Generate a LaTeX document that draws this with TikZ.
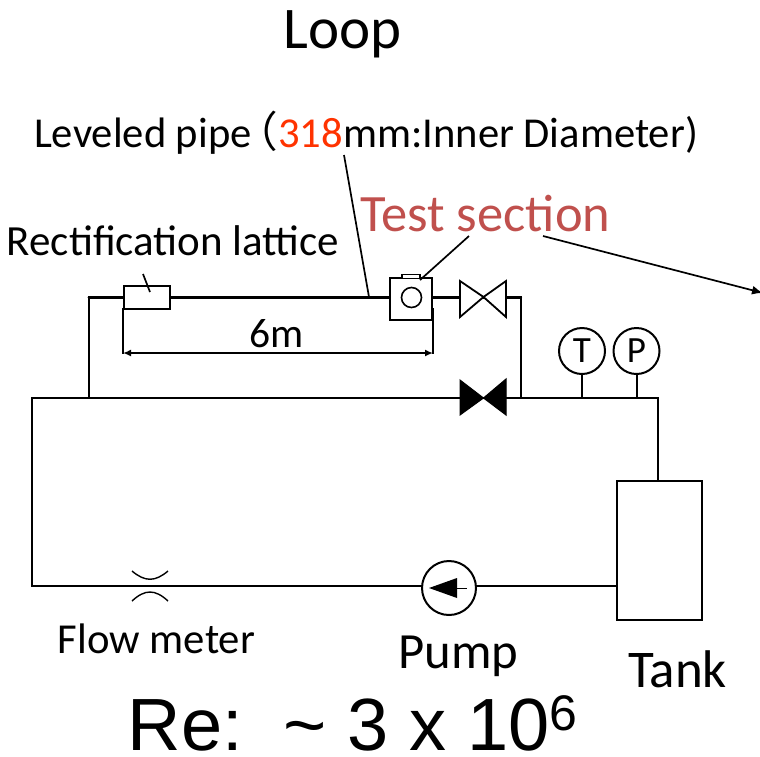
\documentclass[tikz,border=0pt]{standalone}
\usepackage{fontspec}
\setmainfont{Carlito}
\newfontfamily\arialf{Liberation Sans}
\newfontfamily\cjkf{Noto Sans CJK JP}
\usetikzlibrary{arrows.meta,calc}
\definecolor{redlab}{HTML}{FF3300}
\definecolor{testlab}{HTML}{C0504D}
\tikzset{
  x=1pt,y=-1pt,
  pipe/.style={draw=black,line width=2pt},
  toppipe/.style={draw=black,line width=3pt},
  leader/.style={draw=black,line width=1.7pt},
  boxnode/.style={draw=black,line width=2pt,fill=white,inner sep=0pt,outer sep=0pt},
  gauge/.style={draw=black,line width=2pt,fill=white,circle,inner sep=0pt,outer sep=0pt,minimum size=46pt,font=\fontsize{37}{37}\selectfont},
  lab/.style={inner sep=0pt,outer sep=0pt,anchor=base,text=black},
  valveopen/.style={draw=black,line width=1.8pt,fill=white,line join=miter},
  valveshut/.style={draw=black,line width=1pt,fill=black,line join=miter},
  dimtip/.style={-{Latex[length=11pt,width=9pt]}},
}
\begin{document}
\begin{tikzpicture}
\useasboundingbox[fill=white] (0,0) rectangle (760,756);
% texts
\node[lab,font=\fontsize{59}{59}\selectfont] (title) at (343,48) {Loop};
\node[lab,font=\fontsize{42.6}{42.6}\selectfont] (leveled) at (366,147) {Leveled pipe{\hspace{-16pt}\cjkf（}\textcolor{redlab}{318}mm:Inner Diameter)};
\node[lab,font=\fontsize{52.5}{52.5}\selectfont,text=testlab] (testlab) at (485.5,231) {Test section};
\node[lab,font=\fontsize{43}{43}\selectfont] (rectlab) at (173,255) {Rectification lattice};
\node[lab,font=\fontsize{41.5}{41.5}\selectfont] (sixm) at (276.5,347) {6m};
\node[lab,font=\fontsize{42.7}{42.7}\selectfont] (flowlab) at (156.5,653) {Flow meter};
\node[lab,font=\fontsize{50.7}{50.7}\selectfont] (pumplab) at (458.5,668) {Pump};
\node[lab,font=\fontsize{53}{53}\selectfont] (tanklab) at (677.5,687) {Tank};
\node[lab,font=\arialf\fontsize{74}{74}\selectfont] (re) at (352.5,750) {Re:\ \ \textasciitilde\ 3 x 10\raisebox{20pt}{\fontsize{50}{50}\selectfont 6}};
% junction points
\coordinate (tl) at (89,297);
\coordinate (tr) at (520.5,297);
\coordinate (bl) at (89,398);
\coordinate (br) at (520.5,398);
\coordinate (c1) at (32,398);
\coordinate (c2) at (32,586);
\coordinate (c3) at (658,398);
\coordinate (lvl) at (369,297);
\coordinate (tubeT) at (582,398);
\coordinate (tubeP) at (637,398);
\coordinate (c4) at (658,481);
\coordinate (farr) at (763,293);
% pipes
\draw[pipe,line cap=rect] (tl) -- (bl);
\draw[pipe,line cap=rect] (tr) -- (br);
\draw[toppipe,line cap=round] (tl) -- (tr);
\draw[pipe,line join=miter] (c4) -- (c3) -- (c1) -- (c2) -- (617,586);
% tank
\node[boxnode,minimum width=85pt,minimum height=139pt] (tank) at (659.5,550.5) {};
% gauges
\node[gauge] (gT) at (582,351) {T};
\node[gauge] (gP) at (636.5,351) {P};
\draw[pipe] (gT) -- (tubeT);
\draw[pipe] (gP) -- (gP |- tubeP);
% lattice
\node[boxnode,minimum width=46pt,minimum height=23pt] (lattice) at (146.5,297) {};
\draw[leader] (143,274) -- (150,292);
% test section
\node[boxnode,line width=2.2pt,minimum width=42pt,minimum height=42pt] (test) at (411,299) {};
\node[draw=black,line width=1.6pt,circle,inner sep=0pt,outer sep=0pt,minimum size=20pt] (port) at (411.5,297.5) {};
\node[draw=black,line width=1.2pt,fill=white,inner sep=0pt,outer sep=0pt,minimum width=18pt,minimum height=4.5pt] (capbox) at (411,276.5) {};
% valves
\coordinate (v1) at (483.5,297);
\draw[valveopen] (v1) -- (460,281) -- (460,317) -- cycle;
\draw[valveopen] (v1) -- (506,281) -- (506,317) -- cycle;
\coordinate (v2) at (483.5,398);
\draw[valveshut] (v2) -- (460,380) -- (460,415) -- cycle;
\draw[valveshut] (v2) -- (506,379) -- (506,415) -- cycle;
% dimension
\coordinate (dl) at (123,354);
\coordinate (dr) at (433,354);
\draw[pipe] (123,308) -- (dl);
\draw[pipe,line width=1.5pt] (433,308) -- (dr);
\draw[draw=black,line width=1.6pt,{Latex[length=8pt,width=7pt]}-{Latex[length=8pt,width=7pt]}] (dl |- 0,353) -- (dr |- 0,353);
% leaders
\draw[leader] (344,155) -- (lvl);
\draw[leader] (469,236) -- (420,280);
\draw[leader,dimtip] (543,236) -- (farr);
% flow meter
\draw[draw=black,line width=1.4pt] (132,571) .. controls (145,582) and (155,582) .. (168,571);
\draw[draw=black,line width=1.4pt] (132,601) .. controls (145,589) and (155,589) .. (168,601);
% pump
\node[draw=black,line width=2pt,fill=white,circle,inner sep=0pt,outer sep=0pt,minimum size=54pt] (pump) at (449,588) {};
\draw[pipe] (pump.east |- 0,586) -- (617,586);
\draw[pipe] (c2) -- (pump.west |- 0,586);
\fill[black] (429,588) -- (457,578) -- (457,598) -- cycle;
\draw[draw=black,line width=1.6pt] (457,588.5) -- (467,588.5);
\end{tikzpicture}
\end{document}
